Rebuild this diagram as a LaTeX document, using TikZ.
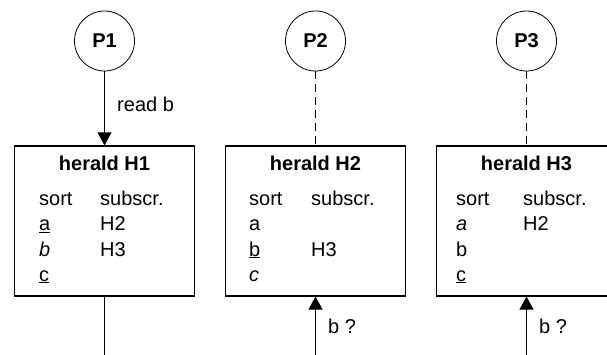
\documentclass[tikz,border=0pt]{standalone}
\usepackage{fontspec}
\setmainfont{Liberation Sans}
\usetikzlibrary{arrows.meta}

\tikzset{
  proc/.style={draw, circle, line width=0.8pt, minimum size=60pt, inner sep=0pt,
    font=\fontsize{20}{24}\selectfont\bfseries},
  herald/.style={draw, line width=1.2pt, minimum width=180pt, minimum height=150pt, inner sep=0pt},
  title/.style={anchor=base, inner sep=0pt, font=\fontsize{20}{24}\selectfont\bfseries},
  entry/.style={anchor=base west, inner sep=0pt},
  flow/.style={line width=0.8pt, -{Triangle[width=14pt,length=13pt]}},
  link/.style={line width=0.8pt, dash pattern=on 8pt off 5pt},
}

\begin{document}
\begin{tikzpicture}[x=1pt, y=-1pt, font=\fontsize{20}{24}\selectfont]
  \clip (0,0) rectangle (607,355);
  % processes
  \node[proc] (p1) at (104.5,41) {P1};
  \node[proc] (p2) at (315.5,41) {P2};
  \node[proc] (p3) at (526.5,41) {P3};
  % heralds
  \node[herald] (h1) at (104.5,221) {};
  \node[herald] (h2) at (315.5,221) {};
  \node[herald] (h3) at (526.5,221) {};
  \coordinate (e1) at (104.5,356);
  \coordinate (e2) at (315.5,356);
  \coordinate (e3) at (526.5,356);
  % table of H1
  \node[title] (t1) at (104.5,171) {herald H1};
  \node[entry] (s1) at (39,206) {sort};
  \node[entry] (u1) at (100,206) {subscr.};
  \node[entry] (a1) at (39,231) {\underline{a}};
  \node[entry] (a1x) at (100,231) {H2};
  \node[entry] (b1) at (39,256) {\textit{b}};
  \node[entry] (b1x) at (100,256) {H3};
  \node[entry] (c1) at (39,281) {\underline{c}};
  % table of H2
  \node[title] (t2) at (315.5,171) {herald H2};
  \node[entry] (s2) at (249,206) {sort};
  \node[entry] (u2) at (311,206) {subscr.};
  \node[entry] (a2) at (249,231) {a};
  \node[entry] (b2) at (249,256) {\underline{b}};
  \node[entry] (b2x) at (311,256) {H3};
  \node[entry] (c2) at (249,281) {\textit{c}};
  % table of H3
  \node[title] (t3) at (526.5,171) {herald H3};
  \node[entry] (s3) at (456,206) {sort};
  \node[entry] (u3) at (523,206) {subscr.};
  \node[entry] (a3) at (456,231) {\textit{a}};
  \node[entry] (a3x) at (523,231) {H2};
  \node[entry] (b3) at (456,256) {b};
  \node[entry] (c3) at (456,281) {\underline{c}};
  % connectors
  \draw[flow] (p1) -- node[right=9pt, pos=0.45] {read b} (h1);
  \draw[line width=0.8pt] (h1) -- (e1);
  \draw[link] (p2) -- (h2);
  \draw[link] (p3) -- (h3);
  \draw[flow] (e2) -- node[right=9pt, pos=0.5] {b ?} (h2);
  \draw[flow] (e3) -- node[right=9pt, pos=0.5] {b ?} (h3);
\end{tikzpicture}
\end{document}
